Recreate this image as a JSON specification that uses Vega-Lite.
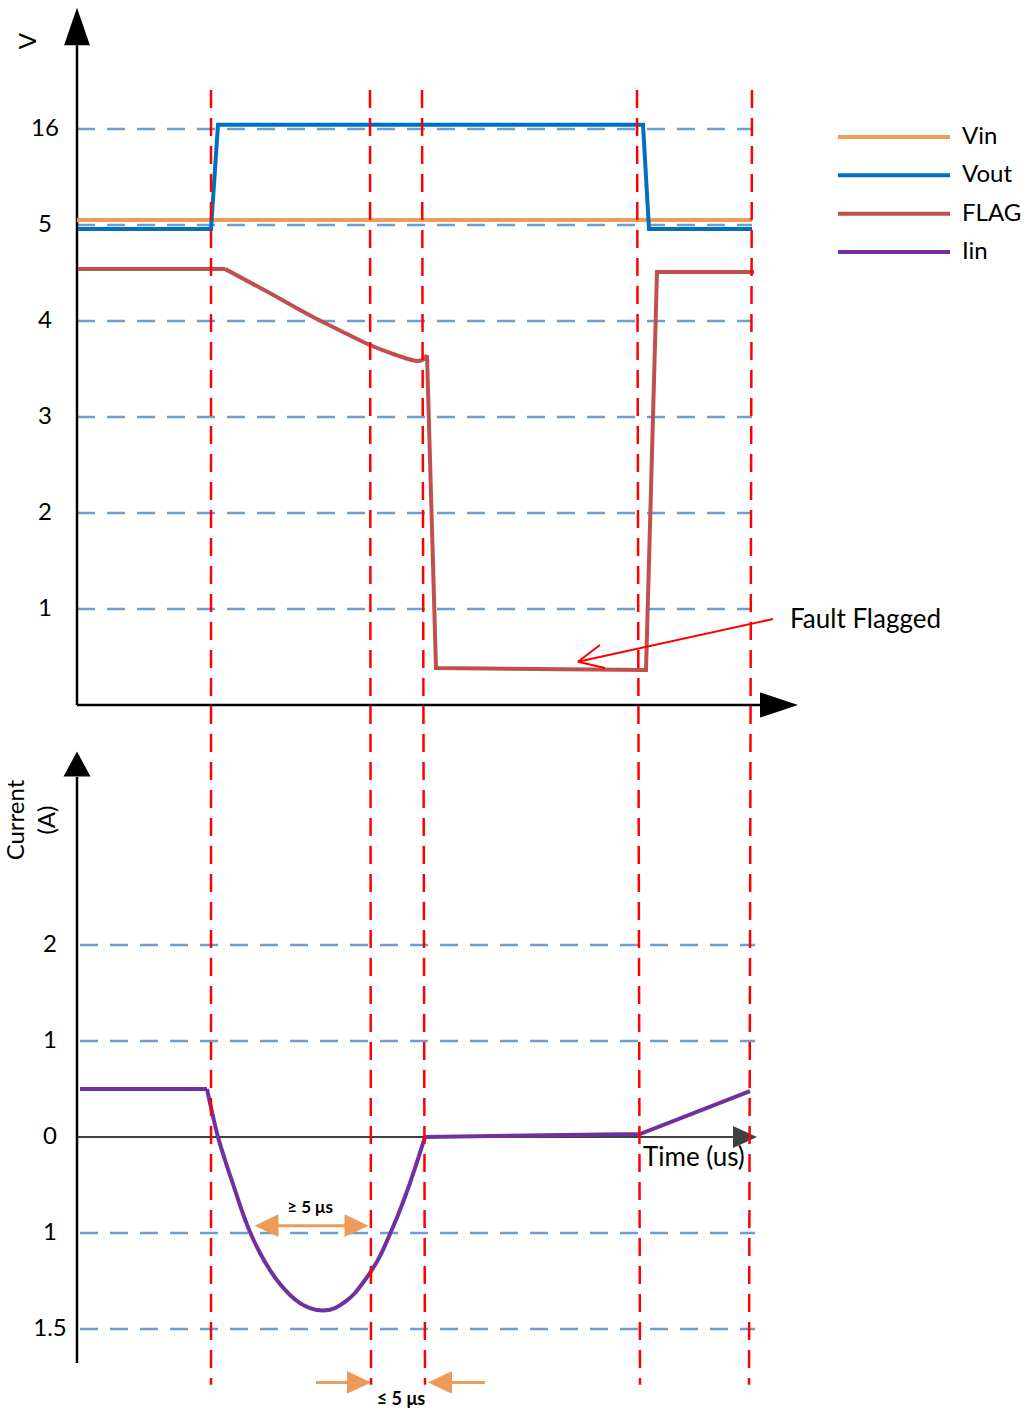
{
  "$schema": "https://vega.github.io/schema/vega-lite/v6.json",
  "width": 1029,
  "height": 1412,
  "autosize": {"type": "none"},
  "padding": 0,
  "background": "white",
  "config": {"view": {"stroke": null}, "font": "Lato", "text": {"font": "Lato", "color": "#000000"}},
  "datasets": {
    "volt": [
      {"series": "Vin", "seg": "a", "t": 0, "v": 5.57},
      {"series": "Vin", "seg": "a", "t": 67.5, "v": 5.57},
      {"series": "Vout", "seg": "a", "t": 0.1, "v": 4.958},
      {"series": "Vout", "seg": "a", "t": 13.4, "v": 4.958},
      {"series": "Vout", "seg": "a", "t": 14.1, "v": 16.5},
      {"series": "Vout", "seg": "a", "t": 56.6, "v": 16.5},
      {"series": "Vout", "seg": "a", "t": 57.2, "v": 4.958},
      {"series": "Vout", "seg": "a", "t": 67.5, "v": 4.958},
      {"series": "FLAG", "seg": "a", "t": 0.1, "v": 4.542},
      {"series": "FLAG", "seg": "a", "t": 14.8, "v": 4.542},
      {"series": "FLAG", "seg": "b", "t": 14.8, "v": 4.542},
      {"series": "FLAG", "seg": "b", "t": 19.0, "v": 4.307},
      {"series": "FLAG", "seg": "b", "t": 24.0, "v": 4.02},
      {"series": "FLAG", "seg": "b", "t": 26.8, "v": 3.875},
      {"series": "FLAG", "seg": "b", "t": 29.3, "v": 3.75},
      {"series": "FLAG", "seg": "b", "t": 31.3, "v": 3.667},
      {"series": "FLAG", "seg": "b", "t": 32.8, "v": 3.615},
      {"series": "FLAG", "seg": "b", "t": 34.1, "v": 3.583},
      {"series": "FLAG", "seg": "b", "t": 34.7, "v": 3.604},
      {"series": "FLAG", "seg": "b", "t": 35.0, "v": 3.646},
      {"series": "FLAG", "seg": "c", "t": 35.0, "v": 3.646},
      {"series": "FLAG", "seg": "c", "t": 35.9, "v": 0.385},
      {"series": "FLAG", "seg": "c", "t": 56.9, "v": 0.365},
      {"series": "FLAG", "seg": "c", "t": 58.0, "v": 4.51},
      {"series": "FLAG", "seg": "c", "t": 67.7, "v": 4.51}
    ],
    "iin": [
      {"series": "Iin", "seg": "a", "t": 0.3, "c": 0.5},
      {"series": "Iin", "seg": "a", "t": 13.0, "c": 0.5},
      {"series": "Iin", "seg": "b", "t": 13.0, "c": 0.5},
      {"series": "Iin", "seg": "b", "t": 14.1, "c": 0},
      {"series": "Iin", "seg": "b", "t": 14.9, "c": -0.271},
      {"series": "Iin", "seg": "b", "t": 15.7, "c": -0.521},
      {"series": "Iin", "seg": "b", "t": 16.5, "c": -0.771},
      {"series": "Iin", "seg": "b", "t": 17.3, "c": -0.99},
      {"series": "Iin", "seg": "b", "t": 18.3, "c": -1.104},
      {"series": "Iin", "seg": "b", "t": 19.3, "c": -1.193},
      {"series": "Iin", "seg": "b", "t": 20.3, "c": -1.266},
      {"series": "Iin", "seg": "b", "t": 21.3, "c": -1.323},
      {"series": "Iin", "seg": "b", "t": 22.3, "c": -1.365},
      {"series": "Iin", "seg": "b", "t": 23.3, "c": -1.391},
      {"series": "Iin", "seg": "b", "t": 24.6, "c": -1.404},
      {"series": "Iin", "seg": "b", "t": 25.8, "c": -1.391},
      {"series": "Iin", "seg": "b", "t": 26.8, "c": -1.359},
      {"series": "Iin", "seg": "b", "t": 27.8, "c": -1.3125},
      {"series": "Iin", "seg": "b", "t": 28.5, "c": -1.266},
      {"series": "Iin", "seg": "b", "t": 29.3, "c": -1.208},
      {"series": "Iin", "seg": "b", "t": 30.3, "c": -1.12},
      {"series": "Iin", "seg": "b", "t": 31.3, "c": -1.005},
      {"series": "Iin", "seg": "b", "t": 32.3, "c": -0.76},
      {"series": "Iin", "seg": "b", "t": 33.3, "c": -0.479},
      {"series": "Iin", "seg": "b", "t": 34.1, "c": -0.229},
      {"series": "Iin", "seg": "b", "t": 34.8, "c": 0},
      {"series": "Iin", "seg": "c", "t": 34.8, "c": 0},
      {"series": "Iin", "seg": "c", "t": 56.3, "c": 0.031},
      {"series": "Iin", "seg": "c", "t": 67.3, "c": 0.479}
    ]
  },
  "resolve": {"scale": {"y": "independent"}},
  "layer": [
    {
      "layer": [
        {
          "data": {"values": [{"c": 2}, {"c": 1}, {"c": -1}, {"c": -1.5}]},
          "mark": {"type": "rule", "color": "#6E9FCC", "strokeWidth": 2.5, "strokeDash": [18, 12]},
          "encoding": {
            "y": {"field": "c", "type": "quantitative", "scale": {"domain": [-1.5, -1, 2], "range": [1329, 1233, 945], "nice": false, "zero": false}, "axis": null},
            "x": {"datum": 0.3, "type": "quantitative", "scale": {"domain": [0, 68], "range": [77, 757], "nice": false, "zero": false}, "axis": null},
            "x2": {"datum": 67.8}
          }
        },
        {
          "data": {"values": [{}]},
          "mark": {"type": "rule", "color": "#404040", "strokeWidth": 2},
          "encoding": {
            "y": {"datum": 0, "type": "quantitative", "scale": {"domain": [-1.5, -1, 2], "range": [1329, 1233, 945], "nice": false, "zero": false}, "axis": null},
            "x": {"datum": 0, "type": "quantitative", "scale": {"domain": [0, 68], "range": [77, 757], "nice": false, "zero": false}, "axis": null},
            "x2": {"datum": 66.5}
          }
        },
        {
          "data": {"values": [{}]},
          "mark": {"type": "rule", "color": "#000000", "strokeWidth": 2.5},
          "encoding": {
            "x": {"datum": 0, "type": "quantitative", "scale": {"domain": [0, 68], "range": [77, 757], "nice": false, "zero": false}, "axis": null},
            "y": {"datum": -1.677, "type": "quantitative", "scale": {"domain": [-1.5, -1, 2], "range": [1329, 1233, 945], "nice": false, "zero": false}, "axis": null},
            "y2": {"datum": 3.75}
          }
        },
        {
          "data": {"values": [{}]},
          "mark": {"type": "point", "filled": true, "color": "#000000", "opacity": 1, "strokeWidth": 0, "size": 729, "shape": "M0,-0.93L1,0.93L-1,0.93Z"},
          "encoding": {
            "x": {"datum": 0, "type": "quantitative", "scale": {"domain": [0, 68], "range": [77, 757], "nice": false, "zero": false}, "axis": null},
            "y": {"datum": 3.885, "type": "quantitative", "scale": {"domain": [-1.5, -1, 2], "range": [1329, 1233, 945], "nice": false, "zero": false}, "axis": null}
          }
        },
        {
          "data": {"values": [{}]},
          "mark": {"type": "point", "filled": true, "color": "#404040", "opacity": 1, "strokeWidth": 0, "size": 576, "shape": "M1,0L-1,0.92L-1,-0.92Z"},
          "encoding": {
            "x": {"datum": 66.8, "type": "quantitative", "scale": {"domain": [0, 68], "range": [77, 757], "nice": false, "zero": false}, "axis": null},
            "y": {"datum": 0, "type": "quantitative", "scale": {"domain": [-1.5, -1, 2], "range": [1329, 1233, 945], "nice": false, "zero": false}, "axis": null}
          }
        },
        {
          "data": {"values": [{"c": 2, "label": "2"}, {"c": 1, "label": "1"}, {"c": 0, "label": "0"}, {"c": -1, "label": "1"}, {"c": -1.5, "label": "1.5"}]},
          "mark": {"type": "text", "fontSize": 24, "align": "center", "baseline": "middle"},
          "encoding": {
            "x": {"datum": -2.7, "type": "quantitative", "scale": {"domain": [0, 68], "range": [77, 757], "nice": false, "zero": false}, "axis": null},
            "y": {"field": "c", "type": "quantitative", "scale": {"domain": [-1.5, -1, 2], "range": [1329, 1233, 945], "nice": false, "zero": false}, "axis": null},
            "text": {"field": "label"}
          }
        },
        {
          "data": {"values": [{"label": "Current"}]},
          "mark": {"type": "text", "fontSize": 24, "align": "center", "baseline": "middle", "angle": 270},
          "encoding": {
            "x": {"datum": -6.0, "type": "quantitative", "scale": {"domain": [0, 68], "range": [77, 757], "nice": false, "zero": false}, "axis": null},
            "y": {"datum": 3.302, "type": "quantitative", "scale": {"domain": [-1.5, -1, 2], "range": [1329, 1233, 945], "nice": false, "zero": false}, "axis": null},
            "text": {"field": "label"}
          }
        },
        {
          "data": {"values": [{"label": "(A)"}]},
          "mark": {"type": "text", "fontSize": 24, "align": "center", "baseline": "middle", "angle": 270},
          "encoding": {
            "x": {"datum": -2.9, "type": "quantitative", "scale": {"domain": [0, 68], "range": [77, 757], "nice": false, "zero": false}, "axis": null},
            "y": {"datum": 3.302, "type": "quantitative", "scale": {"domain": [-1.5, -1, 2], "range": [1329, 1233, 945], "nice": false, "zero": false}, "axis": null},
            "text": {"field": "label"}
          }
        },
        {
          "data": {"name": "iin"},
          "transform": [{"filter": "datum.seg !== 'b'"}],
          "mark": {"type": "line", "strokeWidth": 4},
          "encoding": {
            "x": {"field": "t", "type": "quantitative", "scale": {"domain": [0, 68], "range": [77, 757], "nice": false, "zero": false}, "axis": null},
            "y": {"field": "c", "type": "quantitative", "scale": {"domain": [-1.5, -1, 2], "range": [1329, 1233, 945], "nice": false, "zero": false}, "axis": null},
            "detail": {"field": "seg"},
            "color": {"field": "series", "type": "nominal", "scale": {"domain": ["Vin", "Vout", "FLAG", "Iin"], "range": ["#EE9B57", "#0070C0", "#C0504D", "#7030A0"]}, "legend": null}
          }
        },
        {
          "data": {"name": "iin"},
          "transform": [{"filter": "datum.seg === 'b'"}],
          "mark": {"type": "line", "strokeWidth": 4, "interpolate": "monotone"},
          "encoding": {
            "x": {"field": "t", "type": "quantitative", "scale": {"domain": [0, 68], "range": [77, 757], "nice": false, "zero": false}, "axis": null},
            "y": {"field": "c", "type": "quantitative", "scale": {"domain": [-1.5, -1, 2], "range": [1329, 1233, 945], "nice": false, "zero": false}, "axis": null},
            "color": {"field": "series", "type": "nominal", "scale": {"domain": ["Vin", "Vout", "FLAG", "Iin"], "range": ["#EE9B57", "#0070C0", "#C0504D", "#7030A0"]}, "legend": null}
          }
        },
        {
          "data": {"values": [{"label": "Time (us)"}]},
          "mark": {"type": "text", "fontSize": 26, "align": "left", "baseline": "middle"},
          "encoding": {
            "x": {"datum": 56.6, "type": "quantitative", "scale": {"domain": [0, 68], "range": [77, 757], "nice": false, "zero": false}, "axis": null},
            "y": {"datum": -0.219, "type": "quantitative", "scale": {"domain": [-1.5, -1, 2], "range": [1329, 1233, 945], "nice": false, "zero": false}, "axis": null},
            "text": {"field": "label"}
          }
        },
        {
          "data": {"values": [{"label": "≥ 5 μs"}]},
          "mark": {"type": "text", "fontSize": 17, "fontWeight": "bold", "align": "center", "baseline": "middle"},
          "encoding": {
            "x": {"datum": 23.3, "type": "quantitative", "scale": {"domain": [0, 68], "range": [77, 757], "nice": false, "zero": false}, "axis": null},
            "y": {"datum": -0.74, "type": "quantitative", "scale": {"domain": [-1.5, -1, 2], "range": [1329, 1233, 945], "nice": false, "zero": false}, "axis": null},
            "text": {"field": "label"}
          }
        },
        {
          "data": {"values": [{"label": "≤  5 μs"}]},
          "mark": {"type": "text", "fontSize": 18, "fontWeight": "bold", "align": "center", "baseline": "middle"},
          "encoding": {
            "x": {"datum": 32.4, "type": "quantitative", "scale": {"domain": [0, 68], "range": [77, 757], "nice": false, "zero": false}, "axis": null},
            "y": {"datum": -1.87, "type": "quantitative", "scale": {"domain": [-1.5, -1, 2], "range": [1329, 1233, 945], "nice": false, "zero": false}, "axis": null},
            "text": {"field": "label"}
          }
        },
        {
          "data": {"values": [{"t": 19.5, "t2": 27.4, "c": -0.924}, {"t": 23.9, "t2": 27.5, "c": -1.778}, {"t": 37.3, "t2": 40.8, "c": -1.778}]},
          "mark": {"type": "rule", "color": "#EE9B57", "strokeWidth": 3},
          "encoding": {
            "x": {"field": "t", "type": "quantitative", "scale": {"domain": [0, 68], "range": [77, 757], "nice": false, "zero": false}, "axis": null},
            "x2": {"field": "t2"},
            "y": {"field": "c", "type": "quantitative", "scale": {"domain": [-1.5, -1, 2], "range": [1329, 1233, 945], "nice": false, "zero": false}, "axis": null}
          }
        },
        {
          "data": {"values": [{"t": 18.95, "c": -0.924}, {"t": 36.3, "c": -1.778}]},
          "mark": {"type": "point", "filled": true, "color": "#EE9B57", "opacity": 1, "strokeWidth": 0, "size": 576, "shape": "M-1,0L1,-0.95L1,0.95Z"},
          "encoding": {
            "x": {"field": "t", "type": "quantitative", "scale": {"domain": [0, 68], "range": [77, 757], "nice": false, "zero": false}, "axis": null},
            "y": {"field": "c", "type": "quantitative", "scale": {"domain": [-1.5, -1, 2], "range": [1329, 1233, 945], "nice": false, "zero": false}, "axis": null}
          }
        },
        {
          "data": {"values": [{"t": 27.95, "c": -0.924}, {"t": 28.2, "c": -1.778}]},
          "mark": {"type": "point", "filled": true, "color": "#EE9B57", "opacity": 1, "strokeWidth": 0, "size": 576, "shape": "M1,0L-1,-0.95L-1,0.95Z"},
          "encoding": {
            "x": {"field": "t", "type": "quantitative", "scale": {"domain": [0, 68], "range": [77, 757], "nice": false, "zero": false}, "axis": null},
            "y": {"field": "c", "type": "quantitative", "scale": {"domain": [-1.5, -1, 2], "range": [1329, 1233, 945], "nice": false, "zero": false}, "axis": null}
          }
        }
      ]
    },
    {
      "layer": [
        {
          "data": {"values": [{"v": 16}, {"v": 5}, {"v": 4}, {"v": 3}, {"v": 2}, {"v": 1}]},
          "mark": {"type": "rule", "color": "#6E9FCC", "strokeWidth": 2.5, "strokeDash": [18, 12]},
          "encoding": {
            "y": {"field": "v", "type": "quantitative", "scale": {"domain": [0, 5, 16], "range": [705, 225, 129], "nice": false, "zero": false}, "axis": null},
            "x": {"datum": 0, "type": "quantitative", "scale": {"domain": [0, 68], "range": [77, 757], "nice": false, "zero": false}, "axis": null},
            "x2": {"datum": 67.5}
          }
        },
        {
          "data": {"values": [{}]},
          "mark": {"type": "rule", "color": "#000000", "strokeWidth": 2.5},
          "encoding": {
            "x": {"datum": 0, "type": "quantitative", "scale": {"domain": [0, 68], "range": [77, 757], "nice": false, "zero": false}, "axis": null},
            "y": {"datum": 0, "type": "quantitative", "scale": {"domain": [0, 5, 16], "range": [705, 225, 129], "nice": false, "zero": false}, "axis": null},
            "y2": {"datum": 25.6}
          }
        },
        {
          "data": {"values": [{}]},
          "mark": {"type": "rule", "color": "#000000", "strokeWidth": 2.5},
          "encoding": {
            "y": {"datum": 0, "type": "quantitative", "scale": {"domain": [0, 5, 16], "range": [705, 225, 129], "nice": false, "zero": false}, "axis": null},
            "x": {"datum": 0, "type": "quantitative", "scale": {"domain": [0, 68], "range": [77, 757], "nice": false, "zero": false}, "axis": null},
            "x2": {"datum": 68.5}
          }
        },
        {
          "data": {"values": [{}]},
          "mark": {"type": "point", "filled": true, "color": "#000000", "opacity": 1, "strokeWidth": 0, "size": 1406, "shape": "M0,-1L0.69,1L-0.69,1Z"},
          "encoding": {
            "x": {"datum": 0, "type": "quantitative", "scale": {"domain": [0, 68], "range": [77, 757], "nice": false, "zero": false}, "axis": null},
            "y": {"datum": 27.74, "type": "quantitative", "scale": {"domain": [0, 5, 16], "range": [705, 225, 129], "nice": false, "zero": false}, "axis": null}
          }
        },
        {
          "data": {"values": [{}]},
          "mark": {"type": "point", "filled": true, "color": "#000000", "opacity": 1, "strokeWidth": 0, "size": 1444, "shape": "M1,0L-1,0.66L-1,-0.66Z"},
          "encoding": {
            "x": {"datum": 70.2, "type": "quantitative", "scale": {"domain": [0, 68], "range": [77, 757], "nice": false, "zero": false}, "axis": null},
            "y": {"datum": 0, "type": "quantitative", "scale": {"domain": [0, 5, 16], "range": [705, 225, 129], "nice": false, "zero": false}, "axis": null}
          }
        },
        {
          "data": {"values": [{"v": 16, "label": "16"}, {"v": 5, "label": "5"}, {"v": 4, "label": "4"}, {"v": 3, "label": "3"}, {"v": 2, "label": "2"}, {"v": 1, "label": "1"}]},
          "mark": {"type": "text", "fontSize": 24, "align": "center", "baseline": "middle"},
          "encoding": {
            "x": {"datum": -3.2, "type": "quantitative", "scale": {"domain": [0, 68], "range": [77, 757], "nice": false, "zero": false}, "axis": null},
            "y": {"field": "v", "type": "quantitative", "scale": {"domain": [0, 5, 16], "range": [705, 225, 129], "nice": false, "zero": false}, "axis": null},
            "text": {"field": "label"}
          }
        },
        {
          "data": {"values": [{"label": "V"}]},
          "mark": {"type": "text", "fontSize": 24, "align": "center", "baseline": "middle", "angle": 270},
          "encoding": {
            "x": {"datum": -4.85, "type": "quantitative", "scale": {"domain": [0, 68], "range": [77, 757], "nice": false, "zero": false}, "axis": null},
            "y": {"datum": 26.08, "type": "quantitative", "scale": {"domain": [0, 5, 16], "range": [705, 225, 129], "nice": false, "zero": false}, "axis": null},
            "text": {"field": "label"}
          }
        },
        {
          "data": {"name": "volt"},
          "transform": [{"filter": "datum.seg !== 'b'"}],
          "mark": {"type": "line", "strokeWidth": 4},
          "encoding": {
            "x": {"field": "t", "type": "quantitative", "scale": {"domain": [0, 68], "range": [77, 757], "nice": false, "zero": false}, "axis": null},
            "y": {"field": "v", "type": "quantitative", "scale": {"domain": [0, 5, 16], "range": [705, 225, 129], "nice": false, "zero": false}, "axis": null},
            "detail": {"field": "seg"},
            "color": {"field": "series", "type": "nominal", "scale": {"domain": ["Vin", "Vout", "FLAG", "Iin"], "range": ["#EE9B57", "#0070C0", "#C0504D", "#7030A0"]}, "legend": null}
          }
        },
        {
          "data": {"name": "volt"},
          "transform": [{"filter": "datum.seg === 'b'"}],
          "mark": {"type": "line", "strokeWidth": 4, "interpolate": "monotone"},
          "encoding": {
            "x": {"field": "t", "type": "quantitative", "scale": {"domain": [0, 68], "range": [77, 757], "nice": false, "zero": false}, "axis": null},
            "y": {"field": "v", "type": "quantitative", "scale": {"domain": [0, 5, 16], "range": [705, 225, 129], "nice": false, "zero": false}, "axis": null},
            "color": {"field": "series", "type": "nominal", "scale": {"domain": ["Vin", "Vout", "FLAG", "Iin"], "range": ["#EE9B57", "#0070C0", "#C0504D", "#7030A0"]}, "legend": null}
          }
        },
        {
          "data": {"values": [{"label": "Fault Flagged"}]},
          "mark": {"type": "text", "fontSize": 26, "align": "left", "baseline": "middle"},
          "encoding": {
            "x": {"datum": 71.3, "type": "quantitative", "scale": {"domain": [0, 68], "range": [77, 757], "nice": false, "zero": false}, "axis": null},
            "y": {"datum": 0.885, "type": "quantitative", "scale": {"domain": [0, 5, 16], "range": [705, 225, 129], "nice": false, "zero": false}, "axis": null},
            "text": {"field": "label"}
          }
        },
        {
          "data": {"values": [{"t": 69.6, "v": 0.896, "t2": 50.1, "v2": 0.451}, {"t": 52.3, "v": 0.625, "t2": 50.1, "v2": 0.451}, {"t": 50.1, "v": 0.451, "t2": 52.8, "v2": 0.385}]},
          "mark": {"type": "rule", "color": "#FF0000", "strokeWidth": 2},
          "encoding": {
            "x": {"field": "t", "type": "quantitative", "scale": {"domain": [0, 68], "range": [77, 757], "nice": false, "zero": false}, "axis": null},
            "x2": {"field": "t2"},
            "y": {"field": "v", "type": "quantitative", "scale": {"domain": [0, 5, 16], "range": [705, 225, 129], "nice": false, "zero": false}, "axis": null},
            "y2": {"field": "v2"}
          }
        },
        {
          "data": {"values": [{"t": 13.4, "tb": 13.4}, {"t": 29.3, "tb": 29.4}, {"t": 34.5, "tb": 34.8}, {"t": 56.0, "tb": 56.3}, {"t": 67.5, "tb": 67.2}]},
          "mark": {"type": "rule", "color": "#FF0000", "strokeWidth": 2.5, "strokeDash": [18, 10]},
          "encoding": {
            "x": {"field": "t", "type": "quantitative", "scale": {"domain": [0, 68], "range": [77, 757], "nice": false, "zero": false}, "axis": null},
            "x2": {"field": "tb"},
            "y": {"datum": 20.47, "type": "quantitative", "scale": {"domain": [0, 5, 16], "range": [705, 225, 129], "nice": false, "zero": false}, "axis": null},
            "y2": {"datum": -7.08}
          }
        }
      ]
    },
    {
      "data": {"values": [{"series": "Vin"}, {"series": "Vout"}, {"series": "FLAG"}, {"series": "Iin"}]},
      "layer": [
        {
          "mark": {"type": "rule", "strokeWidth": 4},
          "encoding": {
            "y": {"field": "series", "type": "nominal", "scale": {"type": "point", "domain": ["Vin", "Vout", "FLAG", "Iin"], "range": [137, 252], "padding": 0}, "axis": null},
            "x": {"datum": 76.1, "type": "quantitative", "scale": {"domain": [0, 68], "range": [77, 757], "nice": false, "zero": false}, "axis": null},
            "x2": {"datum": 87.3},
            "color": {"field": "series", "type": "nominal", "scale": {"domain": ["Vin", "Vout", "FLAG", "Iin"], "range": ["#EE9B57", "#0070C0", "#C0504D", "#7030A0"]}, "legend": null}
          }
        },
        {
          "mark": {"type": "text", "fontSize": 24, "align": "left", "baseline": "middle"},
          "encoding": {
            "y": {"field": "series", "type": "nominal", "scale": {"type": "point", "domain": ["Vin", "Vout", "FLAG", "Iin"], "range": [137, 252], "padding": 0}, "axis": null},
            "x": {"datum": 88.5, "type": "quantitative", "scale": {"domain": [0, 68], "range": [77, 757], "nice": false, "zero": false}, "axis": null},
            "text": {"field": "series"}
          }
        }
      ]
    }
  ]
}
